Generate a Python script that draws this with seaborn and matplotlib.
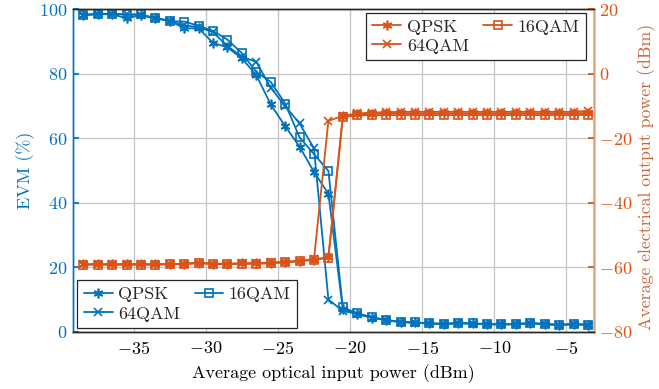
import matplotlib
matplotlib.use("Agg")
import matplotlib.pyplot as plt
import seaborn as sns

# optical input power (dBm)
power_in = [-38.5, -37.5, -36.5, -35.5, -34.5, -33.5, -32.5, -31.5, -30.5, -29.5,
            -28.5, -27.5, -26.5, -25.5, -24.5, -23.5, -22.5, -21.5, -20.5, -19.5,
            -18.5, -17.5, -16.5, -15.5, -14.5, -13.5, -12.5, -11.5, -10.5, -9.5,
            -8.5, -7.5, -6.5, -5.5, -4.5, -3.5]

# EVM (%)
evm_qpsk = [98.3, 98.5, 98.5, 97.2, 98.2, 97.3, 96.5, 94.1, 94.1, 89.6,
            88.2, 84.8, 79.6, 70.5, 63.8, 57.4, 49.6, 42.8, 7.0, 5.6,
            4.4, 3.7, 3.0, 2.9, 2.6, 2.4, 2.7, 2.6, 2.4, 2.3,
            2.4, 2.7, 2.4, 2.2, 2.4, 2.2]
evm_16qam = [98.3, 98.6, 98.6, 98.5, 98.4, 97.3, 96.3, 96.2, 94.9, 93.3,
             90.6, 86.4, 80.6, 77.5, 70.8, 60.3, 55.1, 49.9, 7.6, 5.7,
             4.6, 3.6, 3.1, 2.9, 2.7, 2.5, 2.8, 2.6, 2.4, 2.3,
             2.4, 2.8, 2.4, 2.2, 2.4, 2.2]
evm_64qam = [98.2, 98.5, 98.5, 98.4, 98.2, 97.2, 96.4, 95.0, 94.5, 92.9,
             88.6, 85.3, 83.7, 75.7, 70.0, 64.6, 56.9, 10.0, 6.5, 5.5,
             4.4, 3.6, 3.0, 2.8, 2.6, 2.4, 2.6, 2.5, 2.3, 2.3,
             2.3, 2.6, 2.3, 2.1, 2.3, 2.1]

# electrical output power (dBm)
pout_qpsk = [-59.0, -59.0, -59.0, -59.0, -59.0, -59.0, -59.0, -58.9, -58.6, -58.9,
             -58.9, -58.8, -58.8, -58.6, -58.4, -58.0, -57.6, -56.8, -13.2, -12.6,
             -12.4, -12.3, -12.3, -12.3, -12.3, -12.3, -12.3, -12.3, -12.3, -12.3,
             -12.3, -12.3, -12.3, -12.3, -12.3, -12.1]
pout_16qam = [-59.2, -59.2, -59.2, -59.2, -59.2, -59.2, -59.1, -59.0, -58.7, -59.0,
              -59.0, -58.9, -58.9, -58.7, -58.5, -58.1, -57.7, -57.0, -13.4, -12.9,
              -12.8, -12.8, -12.8, -12.8, -12.8, -12.8, -12.8, -12.8, -12.8, -12.8,
              -12.8, -12.8, -12.8, -12.8, -12.8, -12.7]
pout_64qam = [-59.1, -59.1, -59.1, -59.1, -59.1, -59.1, -59.0, -58.9, -58.6, -58.9,
              -58.9, -58.8, -58.7, -58.5, -58.3, -57.9, -57.5, -14.6, -13.0, -12.3,
              -12.0, -11.9, -11.8, -11.8, -11.8, -11.8, -11.8, -11.8, -11.8, -11.8,
              -11.8, -11.8, -11.8, -11.8, -11.8, -11.5]

labels = ["QPSK", "64QAM", "16QAM"]
BLUE = "#0072BD"
ORANGE = "#D95319"
FS = 13

sns.set_theme(style="whitegrid")
plt.rcParams["font.family"] = "serif"
plt.rcParams["font.serif"] = ["cmr10", "DejaVu Serif"]
plt.rcParams["mathtext.fontset"] = "cm"
plt.rcParams["axes.formatter.use_mathtext"] = True

fig, ax = plt.subplots(figsize=(6.59, 3.89), dpi=100)
fig.subplots_adjust(left=0.111, right=0.901, top=0.976, bottom=0.147)
ax2 = ax.twinx()

asterisk = (6, 2, 0)
styles = {
    "QPSK": dict(marker=asterisk, markersize=7, markerfacecolor="none"),
    "64QAM": dict(marker="x", markersize=5.5),
    "16QAM": dict(marker="s", markersize=6, fillstyle="none"),
}

evm = {"QPSK": evm_qpsk, "64QAM": evm_64qam, "16QAM": evm_16qam}
pout = {"QPSK": pout_qpsk, "64QAM": pout_64qam, "16QAM": pout_16qam}

for name in labels:
    sns.lineplot(x=power_in, y=evm[name], ax=ax, color=BLUE, linewidth=1.3,
                 markeredgewidth=1.2, markeredgecolor=BLUE, label=name, **styles[name])
    sns.lineplot(x=power_in, y=pout[name], ax=ax2, color=ORANGE, linewidth=1.3,
                 markeredgewidth=1.2, markeredgecolor=ORANGE, label=name, **styles[name])

ax.set_xlim(-39.2, -3.1)
ax.set_ylim(0, 100)
ax2.set_ylim(-80, 20)
ax.set_xticks([-35, -30, -25, -20, -15, -10, -5])
ax.set_yticks([0, 20, 40, 60, 80, 100])
ax2.set_yticks([-80, -60, -40, -20, 0, 20])

ax.grid(True, color="#c4c4c4", linewidth=0.9)
ax2.grid(False)
ax.set_axisbelow(True)

ax.set_xlabel("Average optical input power (dBm)", fontsize=FS, color="black", labelpad=5)
ax.set_ylabel("EVM (%)", fontsize=FS, color=BLUE, labelpad=3)
ax2.set_ylabel("Average electrical output power (dBm)", fontsize=12.8, color="#C8663A")
ax2.yaxis.set_label_coords(1.084, 0.48)

ax.tick_params(axis="x", direction="in", length=4, labelsize=FS, colors="black", pad=6)
ax.tick_params(axis="y", direction="in", length=4, labelsize=FS, colors=BLUE, pad=4)
ax2.tick_params(axis="y", direction="in", length=4, labelsize=FS, colors=ORANGE, pad=4)

for a in (ax, ax2):
    for s in a.spines.values():
        s.set_linewidth(1.0)
        s.set_color("#262626")
ax2.spines["left"].set_color(BLUE)
ax2.spines["right"].set_color("#D9A07A")
ax.spines["left"].set_color(BLUE)

leg_kw = dict(ncol=2, fontsize=FS, frameon=True, fancybox=False, edgecolor="#262626",
              framealpha=1, handlelength=1.6, columnspacing=0.8, handletextpad=0.3,
              borderpad=0.35, labelspacing=0.2, borderaxespad=0)
leg1 = ax.legend(loc="lower left", bbox_to_anchor=(0.008, 0.012), **leg_kw)
leg1.get_frame().set_linewidth(0.9)
leg2 = ax2.legend(loc="upper right", bbox_to_anchor=(0.985, 0.99), **leg_kw)
leg2.get_frame().set_linewidth(0.9)

fig.savefig("out.png", dpi=100)
